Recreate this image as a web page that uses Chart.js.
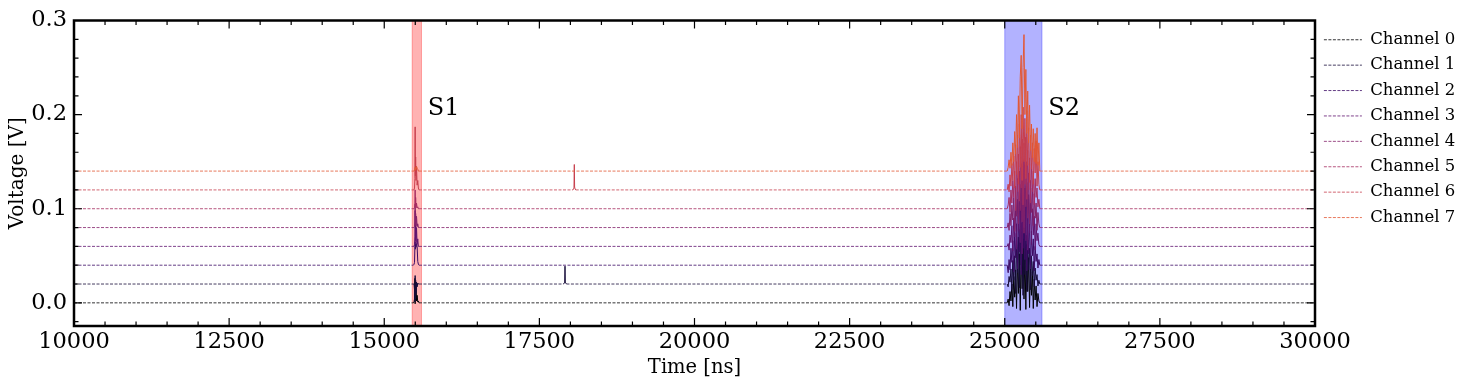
<!DOCTYPE html>
<html>
<head>
<meta charset="utf-8">
<script src="https://cdn.jsdelivr.net/npm/chart.js@4.4.1/dist/chart.umd.min.js"></script>
<style>
  html, body { margin: 0; padding: 0; background: #fff; }
</style>
</head>
<body>
<canvas id="plot" width="1477" height="386"></canvas>
<script>
// channels
const channelNames = ['Channel 0', 'Channel 1', 'Channel 2', 'Channel 3', 'Channel 4', 'Channel 5', 'Channel 6', 'Channel 7'];
const channelColors = ['#000004', '#160b39', '#3b0a64', '#5f136e', '#832169', '#a52c60', '#c73e4c', '#e25734'];
const baselines = [0, 0.02, 0.04, 0.06, 0.08, 0.10, 0.12, 0.14];

// axes
const xRange = [10000, 30000];
const yRange = [-0.0246, 0.3];
const xTicks = [10000, 12500, 15000, 17500, 20000, 22500, 25000, 27500, 30000];
const yTicks = [0.0, 0.1, 0.2, 0.3];

// signal windows
const spanS1 = [15450, 15600];
const spanS2 = [25000, 25600];
const labelS1 = {text: 'S1', x: 15700, y: 0.2};
const labelS2 = {text: 'S2', x: 25700, y: 0.2};

// S1 pulses (amplitude above each channel's baseline, V)
const s1Times = [15470, 15480, 15488, 15494, 15498, 15502, 15506, 15512, 15520, 15530, 15540, 15550, 15560];
const s1Amps = [
  [0, 0.001, 0.004, 0.026, -0.001, 0.022, 0.003, 0.018, 0.002, 0.008, 0.001, 0.002, 0],
  [0, 0, -0.006, -0.019, 0.009, -0.016, 0.004, -0.01, 0.002, -0.003, 0.001, 0, 0],
  [0, 0.001, 0.003, 0.02, 0.025, 0.017, 0.022, 0.019, 0.023, 0.02, 0.004, 0.001, 0],
  [0, 0, 0.002, 0.01, 0.038, 0.006, 0.03, 0.004, 0.02, 0.002, 0.008, 0, 0],
  [0, 0, 0.001, 0.006, 0.025, 0.003, 0.015, 0.002, 0.012, 0.001, 0.004, 0, 0],
  [0, 0, 0.001, 0.004, 0.02, 0.002, 0.012, 0.001, 0.006, 0.001, 0.002, 0, 0],
  [0, 0, 0.002, 0.012, 0.067, 0.015, 0.035, 0.01, 0.025, 0.005, 0.01, 0.002, 0],
  [0, 0, 0.001, 0.002, 0.004, 0.001, 0.003, 0.002, 0.005, 0.003, 0.002, 0, 0]
];

// isolated hits between the windows
const hitCh1Times = [17890, 17900, 17908, 17913, 17918, 17926, 17936];
const hitCh1Amps = [0, 0.001, 0.002, 0.019, 0.002, 0.001, 0];
const hitCh6Times = [18040, 18050, 18058, 18063, 18068, 18076, 18086];
const hitCh6Amps = [0, 0.001, 0.002, 0.027, 0.003, 0.001, 0];

// S2 pulses
const s2Times = [25040, 25055, 25070, 25085, 25100, 25115, 25130, 25145, 25160, 25175, 25190, 25205,
                 25220, 25235, 25250, 25265, 25280, 25295, 25310, 25325, 25340, 25355, 25370, 25385,
                 25400, 25415, 25430, 25445, 25460, 25475, 25490, 25505, 25520, 25535, 25550, 25565];
const s2Amps = [
  [0, 0.004, -0.003, 0.012, 0.002, 0.02, -0.004, 0.028, 0.006, 0.035, -0.006, 0.045,
   0.01, 0.052, -0.008, 0.06, 0.015, 0.068, 0.004, 0.055, -0.007, 0.062, 0.012, 0.048,
   -0.005, 0.04, 0.008, 0.033, -0.006, 0.025, 0.003, 0.018, -0.004, 0.01, 0.002, 0],
  [0, -0.003, 0.008, 0.002, 0.016, -0.006, 0.025, 0.004, 0.03, -0.01, 0.042, 0.012,
   0.05, -0.004, 0.058, 0.02, 0.065, -0.012, 0.06, 0.01, 0.052, -0.008, 0.047, 0.015,
   0.038, -0.006, 0.03, 0.009, 0.024, -0.003, 0.017, 0.004, 0.01, -0.002, 0.004, 0],
  [0, -0.008, 0.006, -0.005, 0.018, 0.003, 0.026, -0.007, 0.034, 0.008, 0.044, -0.004,
   0.052, 0.014, 0.06, -0.01, 0.066, 0.018, 0.058, 0.006, 0.063, -0.006, 0.05, 0.012,
   0.045, -0.004, 0.036, 0.01, 0.028, -0.006, 0.02, 0.004, 0.012, -0.003, 0.006, 0],
  [0, 0.003, -0.004, 0.012, 0.004, 0.022, -0.005, 0.03, 0.01, 0.04, -0.003, 0.05,
   0.016, 0.058, 0.004, 0.066, -0.008, 0.07, 0.02, 0.062, 0.006, 0.068, -0.004, 0.055,
   0.014, 0.046, 0.002, 0.04, 0.012, 0.032, -0.004, 0.024, 0.006, 0.014, 0.002, 0],
  [0, 0.005, -0.003, 0.015, 0.002, 0.024, 0.008, 0.032, -0.004, 0.044, 0.012, 0.052,
   0.004, 0.06, 0.018, 0.068, 0.006, 0.072, -0.006, 0.066, 0.022, 0.07, 0.01, 0.058,
   0.004, 0.05, 0.016, 0.042, 0.002, 0.036, 0.01, 0.026, -0.003, 0.016, 0.004, 0],
  [0, 0.004, 0.012, -0.004, 0.02, 0.006, 0.03, 0.012, 0.04, -0.002, 0.05, 0.018,
   0.058, 0.008, 0.066, 0.022, 0.074, 0.004, 0.07, 0.026, 0.076, 0.01, 0.062, 0.02,
   0.054, 0.006, 0.048, 0.018, 0.04, 0.004, 0.032, 0.012, 0.022, 0.002, 0.01, 0],
  [0, 0.006, -0.002, 0.016, 0.004, 0.028, 0.01, 0.036, 0.002, 0.048, 0.016, 0.058,
   0.006, 0.07, 0.024, 0.08, 0.01, 0.088, 0.03, 0.076, 0.012, 0.084, 0.026, 0.066,
   0.008, 0.058, 0.022, 0.05, 0.006, 0.044, 0.018, 0.052, 0.004, 0.03, 0.006, 0],
  [0, 0.004, 0.012, 0.003, 0.02, 0.006, 0.03, 0.01, 0.042, 0.018, 0.06, 0.025,
   0.08, 0.035, 0.1, 0.123, 0.045, 0.11, 0.145, 0.06, 0.108, 0.04, 0.085, 0.03,
   0.07, 0.022, 0.05, 0.014, 0.045, 0.01, 0.04, 0.008, 0.046, 0.006, 0.03, 0]
];

const FONT = 'DejaVu Serif';
const legendFontSize = 16.5;
const legendPadding = 8.9;
const legendLineW = 38;
const DASH = [3, 1.5];

function buildTrace(ch) {
  const base = baselines[ch];
  const pts = [{x: xRange[0], y: base}];
  const add = (times, amps) => times.forEach((t, i) => pts.push({x: t, y: base + amps[i]}));
  add(s1Times, s1Amps[ch]);
  if (ch === 1) add(hitCh1Times, hitCh1Amps);
  if (ch === 6) add(hitCh6Times, hitCh6Amps);
  add(s2Times, s2Amps[ch]);
  pts.push({x: xRange[1], y: base});
  return pts;
}

const datasets = channelNames.map((name, ch) => ({
  label: name,
  data: buildTrace(ch),
  borderColor: channelColors[ch],
  backgroundColor: channelColors[ch],
  borderWidth: 0.8,
  borderDash: DASH,
  pointRadius: 0,
  pointStyle: 'line',
  tension: 0,
  fill: false,
  order: channelNames.length - ch,
  segment: {
    borderDash: c => (c.p1.parsed.x - c.p0.parsed.x > 40 ? DASH : []),
    borderWidth: c => (c.p1.parsed.x - c.p0.parsed.x > 40 ? 0.8 : 1)
  }
}));

// legend box has to end exactly where the plot frame ends
const mctx = document.createElement('canvas').getContext('2d');
mctx.font = legendFontSize + 'px ' + FONT;
const textW = Math.max(...channelNames.map(n => mctx.measureText(n).width));
const legendW = legendPadding + legendLineW + legendFontSize / 2 + textW + 10;
const padRight = Math.max(0, 162 - legendW);

const decor = {
  id: 'decor',
  beforeDatasetsDraw(chart) {
    const {ctx, chartArea: a, scales: {x}} = chart;
    ctx.save();
    [[spanS1, 'rgba(255,0,0,0.3)'], [spanS2, 'rgba(0,0,255,0.3)']].forEach(([s, c]) => {
      const x0 = x.getPixelForValue(s[0]), x1 = x.getPixelForValue(s[1]);
      ctx.fillStyle = c;
      ctx.fillRect(x0, a.top, x1 - x0, a.bottom - a.top);
      ctx.strokeStyle = c;
      ctx.lineWidth = 1;
      ctx.strokeRect(x0, a.top, x1 - x0, a.bottom - a.top);
    });
    ctx.restore();
  },
  afterDatasetsDraw(chart) {
    const {ctx, scales: {x, y}} = chart;
    ctx.save();
    ctx.font = '24px ' + FONT;
    ctx.fillStyle = '#000';
    ctx.textAlign = 'left';
    ctx.textBaseline = 'alphabetic';
    [labelS1, labelS2].forEach(l => ctx.fillText(l.text, x.getPixelForValue(l.x), y.getPixelForValue(l.y)));
    ctx.restore();
  },
  afterDraw(chart) {
    const {ctx, chartArea: a, scales: {x, y}} = chart;
    ctx.save();
    ctx.strokeStyle = '#000';
    ctx.lineWidth = 1.2;
    ctx.beginPath();
    const xTick = (v, len) => {
      const p = x.getPixelForValue(v);
      ctx.moveTo(p, a.bottom); ctx.lineTo(p, a.bottom - len);
      ctx.moveTo(p, a.top); ctx.lineTo(p, a.top + len);
    };
    const yTick = (v, len) => {
      const p = y.getPixelForValue(v);
      ctx.moveTo(a.left, p); ctx.lineTo(a.left + len, p);
      ctx.moveTo(a.right, p); ctx.lineTo(a.right - len, p);
    };
    xTicks.forEach(v => xTick(v, 8));
    yTicks.forEach(v => yTick(v, 8));
    for (let k = 1; k < 40; k++) if (k % 5) xTick(10000 + 500 * k, 4.5);
    for (let k = -1; k < 15; k++) if (k % 5) yTick(0.02 * k, 4.5);
    ctx.stroke();
    ctx.lineWidth = 2.5;
    ctx.strokeRect(a.left, a.top, a.right - a.left, a.bottom - a.top);
    ctx.restore();
  }
};

Chart.defaults.font.family = FONT;
Chart.defaults.color = '#000';

new Chart(document.getElementById('plot'), {
  type: 'line',
  data: {datasets},
  options: {
    responsive: false,
    animation: false,
    events: [],
    devicePixelRatio: 1,
    layout: {padding: {left: 0, top: 18, right: padRight, bottom: 0}},
    plugins: {
      tooltip: {enabled: false},
      legend: {
        position: 'right',
        align: 'start',
        title: {display: true, text: '', font: {size: 2}, padding: 1.1},
        labels: {
          font: {family: FONT, size: legendFontSize},
          color: '#000',
          usePointStyle: true,
          pointStyleWidth: legendLineW,
          boxWidth: legendLineW,
          boxHeight: 2,
          padding: legendPadding,
          sort: (a, b) => a.datasetIndex - b.datasetIndex,
          generateLabels: chart => Chart.defaults.plugins.legend.labels.generateLabels(chart)
            .map(item => Object.assign(item, {pointStyle: 'line', lineDash: DASH, lineWidth: 0.8, fillStyle: item.strokeStyle}))
        }
      }
    },
    scales: {
      x: {
        type: 'linear',
        min: xRange[0],
        max: xRange[1],
        afterBuildTicks: s => { s.ticks = xTicks.map(v => ({value: v})); },
        afterFit: s => { s.height = 60; },
        grid: {display: false, drawTicks: false},
        border: {display: false},
        ticks: {font: {size: 22.5}, color: '#000', padding: 3, autoSkip: false, maxRotation: 0,
                callback: v => String(v)},
        title: {display: true, text: 'Time [ns]', font: {size: 19.5}, color: '#000', padding: {top: 0, bottom: 6}}
      },
      y: {
        type: 'linear',
        min: yRange[0],
        max: yRange[1],
        afterBuildTicks: s => { s.ticks = yTicks.map(v => ({value: v})); },
        afterFit: s => { s.width = 74; },
        grid: {display: false, drawTicks: false},
        border: {display: false},
        ticks: {font: {size: 22.5}, color: '#000', padding: 7, callback: v => v.toFixed(1)},
        title: {display: true, text: 'Voltage [V]', font: {size: 20}, color: '#000', padding: {top: 6, bottom: 0}}
      }
    }
  },
  plugins: [decor]
});
</script>
</body>
</html>
